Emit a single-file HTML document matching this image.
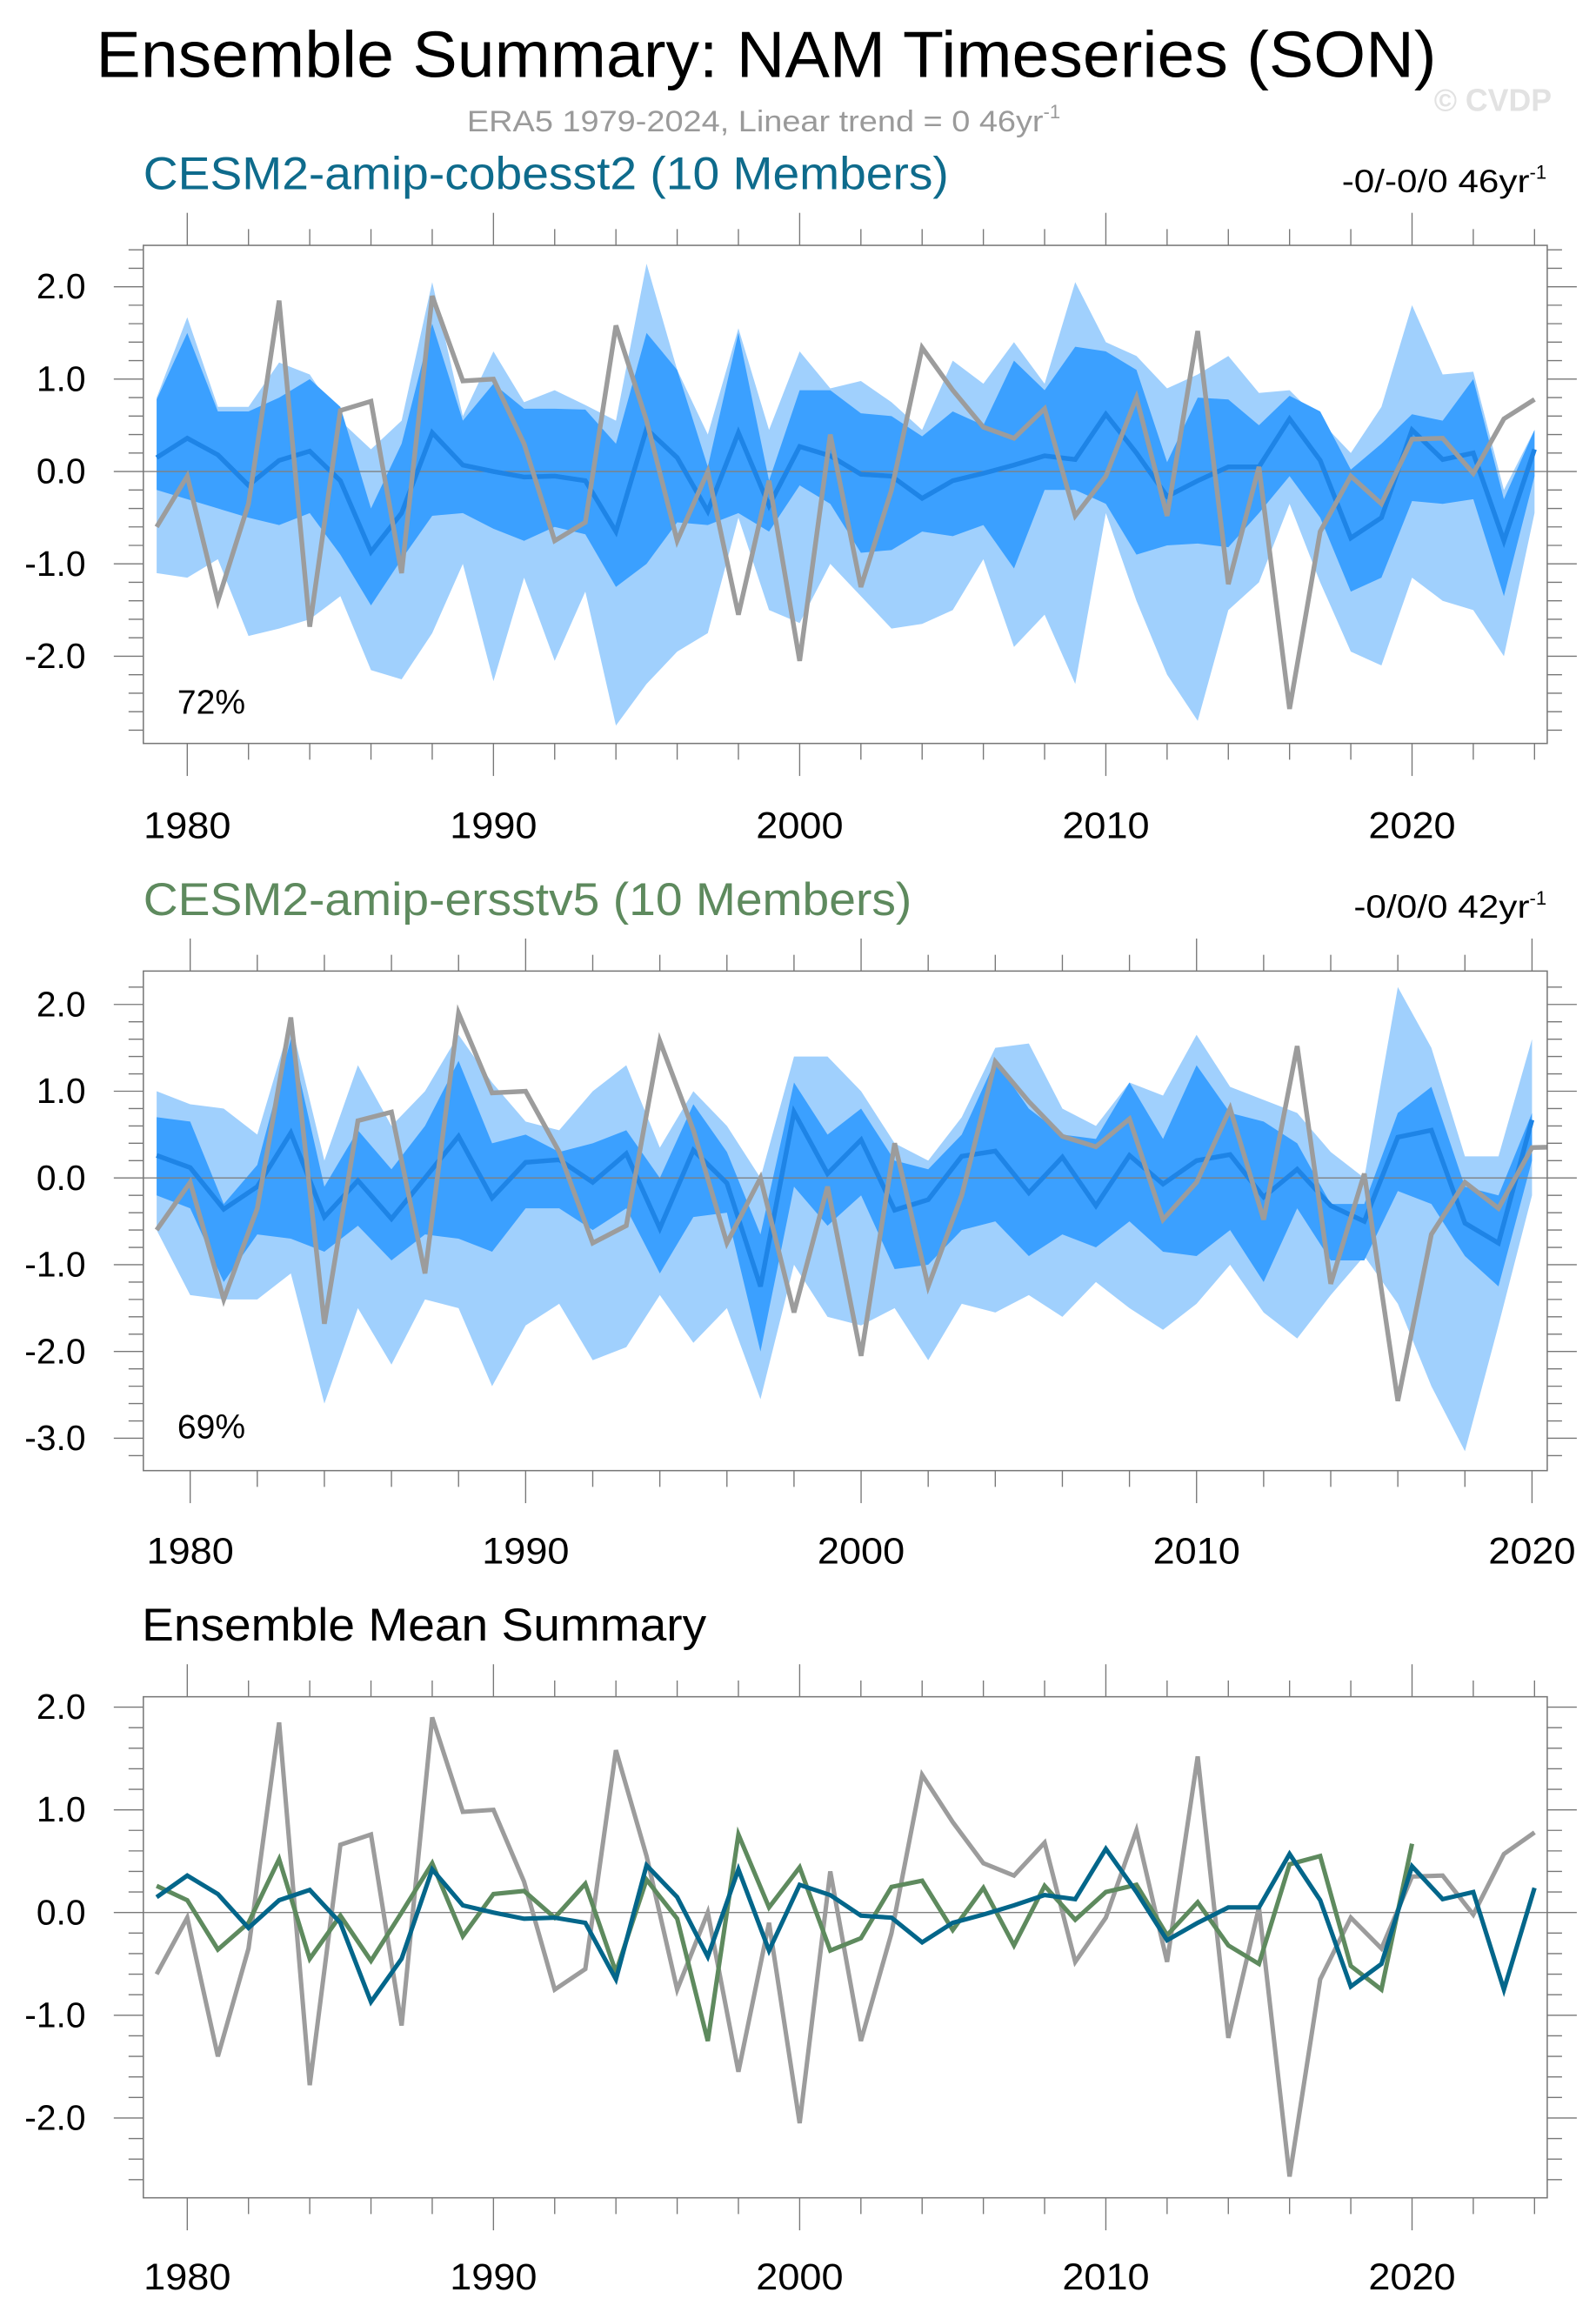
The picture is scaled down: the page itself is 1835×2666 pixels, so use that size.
<!DOCTYPE html>
<html><head><meta charset="utf-8">
<style>
html,body{margin:0;padding:0;background:#fff;}
svg{display:block;font-family:"Liberation Sans",sans-serif;}
</style></head>
<body>
<svg id="chart" width="1835" height="2666" viewBox="0 0 1080 1569" preserveAspectRatio="none" xmlns="http://www.w3.org/2000/svg">
<text x="65" y="52" font-size="44" textLength="907" lengthAdjust="spacingAndGlyphs" fill="#000">Ensemble Summary: NAM Timeseries (SON)</text>
<text x="316" y="89" font-size="20" fill="#9a9a9a"><tspan textLength="390" lengthAdjust="spacingAndGlyphs">ERA5 1979-2024, Linear trend = 0 46yr</tspan><tspan font-size="13" dy="-9">-1</tspan></text>
<text x="1050" y="75" font-size="21" font-weight="bold" text-anchor="end" fill="#e2e2e2">© CVDP</text>
<text x="97" y="128" font-size="31" textLength="545" lengthAdjust="spacingAndGlyphs" fill="#0e6b8c">CESM2-amip-cobesst2 (10 Members)</text>
<text x="908" y="130" font-size="22" fill="#000"><tspan textLength="127" lengthAdjust="spacingAndGlyphs">-0/-0/0 46yr</tspan><tspan font-size="13" dy="-9">-1</tspan></text>
<text x="97" y="619" font-size="31" textLength="520" lengthAdjust="spacingAndGlyphs" fill="#5e8a5e">CESM2-amip-ersstv5 (10 Members)</text>
<text x="916" y="621" font-size="22" fill="#000"><tspan textLength="119" lengthAdjust="spacingAndGlyphs">-0/0/0 42yr</tspan><tspan font-size="13" dy="-9">-1</tspan></text>
<text x="96" y="1110" font-size="31" textLength="382" lengthAdjust="spacingAndGlyphs" fill="#000">Ensemble Mean Summary</text>
<g id="plots"></g>
</svg>
<script>
// ---- data ----
const yearsA = [1979,1980,1981,1982,1983,1984,1985,1986,1987,1988,1989,1990,1991,1992,1993,1994,1995,1996,1997,1998,1999,2000,2001,2002,2003,2004,2005,2006,2007,2008,2009,2010,2011,2012,2013,2014,2015,2016,2017,2018,2019,2020,2021,2022,2023,2024];
const era5 = [-0.6,-0.05,-1.4,-0.35,1.85,-1.68,0.66,0.76,-1.1,1.9,0.98,1.0,0.3,-0.75,-0.55,1.58,0.55,-0.75,0.0,-1.55,-0.1,-2.05,0.4,-1.25,-0.2,1.34,0.88,0.48,0.36,0.68,-0.48,-0.05,0.8,-0.48,1.52,-1.22,0.05,-2.57,-0.65,-0.05,-0.35,0.35,0.36,-0.02,0.57,0.78];
const cobMean = [0.15,0.36,0.18,-0.15,0.12,0.22,-0.1,-0.87,-0.45,0.42,0.07,0.0,-0.06,-0.05,-0.1,-0.65,0.46,0.15,-0.43,0.42,-0.37,0.27,0.17,-0.03,-0.05,-0.29,-0.1,-0.02,0.07,0.17,0.13,0.62,0.2,-0.27,-0.1,0.05,0.05,0.57,0.12,-0.72,-0.5,0.45,0.13,0.2,-0.75,0.24];
const cobOuterHi = [0.8,1.67,0.7,0.7,1.18,1.05,0.55,0.24,0.55,2.05,0.6,1.3,0.75,0.88,0.72,0.55,2.25,1.1,0.4,1.55,0.45,1.3,0.9,0.98,0.75,0.45,1.2,0.95,1.4,0.95,2.05,1.4,1.25,0.9,1.05,1.25,0.85,0.88,0.55,0.2,0.7,1.8,1.05,1.08,-0.2,0.45];
const cobInnerHi = [0.78,1.5,0.65,0.65,0.8,1.0,0.7,-0.4,0.3,1.6,0.55,0.95,0.68,0.68,0.67,0.3,1.5,1.1,0.05,1.5,-0.1,0.88,0.88,0.63,0.6,0.38,0.65,0.5,1.2,0.88,1.35,1.3,1.1,0.1,0.8,0.78,0.5,0.82,0.65,0.02,0.3,0.62,0.55,1.0,-0.3,0.45];
const cobInnerLo = [-0.2,-0.3,-0.4,-0.5,-0.58,-0.45,-0.9,-1.45,-0.95,-0.48,-0.45,-0.62,-0.75,-0.6,-0.68,-1.25,-1.0,-0.55,-0.58,-0.45,-0.65,-0.15,-0.35,-0.88,-0.85,-0.65,-0.7,-0.58,-1.05,-0.2,-0.2,-0.35,-0.9,-0.8,-0.78,-0.82,-0.45,-0.05,-0.5,-1.3,-1.15,-0.32,-0.35,-0.3,-1.35,-0.05];
const cobOuterLo = [-1.1,-1.15,-0.95,-1.78,-1.7,-1.6,-1.35,-2.15,-2.25,-1.75,-1.0,-2.27,-1.15,-2.05,-1.3,-2.75,-2.3,-1.95,-1.75,-0.5,-1.5,-1.64,-1.0,-1.35,-1.7,-1.65,-1.5,-0.95,-1.9,-1.55,-2.3,-0.45,-1.4,-2.2,-2.7,-1.5,-1.2,-0.35,-1.2,-1.95,-2.1,-1.15,-1.4,-1.5,-2.0,-0.45];
const yearsB = [1979,1980,1981,1982,1983,1984,1985,1986,1987,1988,1989,1990,1991,1992,1993,1994,1995,1996,1997,1998,1999,2000,2001,2002,2003,2004,2005,2006,2007,2008,2009,2010,2011,2012,2013,2014,2015,2016,2017,2018,2019,2020];
const ersMean = [0.26,0.12,-0.36,-0.1,0.52,-0.45,-0.03,-0.47,0.0,0.48,-0.23,0.18,0.21,-0.05,0.28,-0.58,0.32,-0.06,-1.25,0.76,0.05,0.44,-0.37,-0.25,0.25,0.31,-0.17,0.24,-0.32,0.26,-0.07,0.2,0.27,-0.22,0.1,-0.32,-0.5,0.47,0.55,-0.52,-0.75,0.67];
const ersOuterHi = [1.0,0.85,0.8,0.5,1.8,0.2,1.3,0.6,1.0,1.65,1.1,0.65,0.55,1.0,1.3,0.35,1.0,0.6,0.0,1.4,1.4,1.0,0.4,0.2,0.7,1.5,1.55,0.8,0.6,1.1,0.95,1.65,1.05,0.9,0.75,0.3,0.0,2.2,1.5,0.25,0.25,1.6];
const ersInnerHi = [0.7,0.65,-0.3,0.15,1.6,-0.1,0.55,0.1,0.6,1.35,0.4,0.5,0.3,0.4,0.55,0.0,0.85,0.3,-0.65,1.1,0.5,0.8,0.2,0.1,0.5,1.35,0.8,0.5,0.45,1.1,0.45,1.3,0.75,0.65,0.4,-0.3,-0.3,0.75,1.05,-0.1,-0.2,0.75];
const ersInnerLo = [-0.2,-0.35,-1.2,-0.65,-0.7,-0.85,-0.55,-0.95,-0.65,-0.7,-0.85,-0.35,-0.35,-0.6,-0.35,-1.1,-0.45,-0.4,-2.0,-0.1,-0.55,-0.2,-1.05,-1.0,-0.6,-0.5,-0.9,-0.65,-0.8,-0.5,-0.85,-0.9,-0.6,-1.2,-0.35,-0.95,-0.95,-0.15,-0.3,-0.9,-1.25,0.2];
const ersOuterLo = [-0.6,-1.35,-1.4,-1.4,-1.1,-2.6,-1.5,-2.15,-1.4,-1.5,-2.4,-1.7,-1.45,-2.1,-1.95,-1.35,-1.9,-1.5,-2.55,-1.0,-1.6,-1.7,-1.5,-2.1,-1.45,-1.55,-1.35,-1.6,-1.2,-1.5,-1.75,-1.45,-1.0,-1.55,-1.85,-1.35,-0.9,-1.45,-2.4,-3.15,-1.7,-0.2];
const xTickLabelsA = ["1980","1990","2000","2010","2020"];
const yTickLabels1 = ["2.0","1.0","0.0","-1.0","-2.0"];
const yTickLabels2 = ["2.0","1.0","0.0","-1.0","-2.0","-3.0"];

const NS = "http://www.w3.org/2000/svg";
const root = document.getElementById('plots');
function mk(tag, attrs, parent){const e=document.createElementNS(NS,tag);for(const k in attrs)e.setAttribute(k,attrs[k]);(parent||root).appendChild(e);return e;}

function panel(cfg){
  const g = mk('g',{});
  
  
  const L=97,R=1047,T=cfg.top,B=cfg.bottom;
  const X = y => cfg.x0 + (y-1979)*cfg.xs;
  const Y = v => cfg.zero - v*cfg.ys;
  const cid = cfg.name+'-clip';
  const cp = mk('clipPath',{id:cid},g); mk('rect',{x:L,y:T,width:R-L,height:B-T},cp);
  const body = mk('g',{'clip-path':'url(#'+cid+')'},g);
  function band(years,hi,lo,color,nm){
    let d='';
    years.forEach((yr,i)=>{d+=(i?'L':'M')+X(yr).toFixed(2)+','+Y(hi[i]).toFixed(2);});
    for(let i=years.length-1;i>=0;i--) d+='L'+X(years[i]).toFixed(2)+','+Y(lo[i]).toFixed(2);
    const p=mk('path',{d:d+'Z',fill:color},body);
    
    
  }
  function line(years,vals,color,w,nm){
    const pts=years.map((yr,i)=>X(yr).toFixed(2)+','+Y(vals[i]).toFixed(2)).join(' ');
    const p=mk('polyline',{points:pts,fill:'none',stroke:color,'stroke-width':w,'stroke-linejoin':'miter'},body);
    
    
  }
  if(cfg.bands){
    band(cfg.years,cfg.bands[0],cfg.bands[3],'#a0d0fd',cfg.name+'-outer-spread');
    band(cfg.years,cfg.bands[1],cfg.bands[2],'#3ba0ff',cfg.name+'-inner-spread');
  }
  mk('line',{x1:L,x2:R,y1:Y(0),y2:Y(0),stroke:'#808080','stroke-width':0.8},body);
  cfg.lines.forEach(l=>line(l.years,l.vals,l.color,l.w,l.name));
  const fr=mk('rect',{x:L,y:T,width:R-L,height:B-T,fill:'none',stroke:'#777','stroke-width':0.9},g);
  
  
  for(let yr=1980;yr<=cfg.xmax;yr+=2){
    const x=X(yr); if(x>R) continue;
    const maj=yr%10===0, len=maj?22:11;
    mk('line',{x1:x,x2:x,y1:T,y2:T-len,stroke:'#777','stroke-width':0.8},g);
    mk('line',{x1:x,x2:x,y1:B,y2:B+len,stroke:'#777','stroke-width':0.8},g);
  }
  xTickLabelsA.forEach(lab=>{
    const yr=+lab; if(yr>cfg.xmax) return;
    const t=mk('text',{x:X(yr),y:cfg.xlabY,'font-size':25,'text-anchor':'middle',textLength:59,lengthAdjust:'spacingAndGlyphs',fill:'#000'},g);
    t.textContent=lab;
    
    
  });
  for(let k=-40;k<=30;k++){
    const v=k*0.2; const y=Y(v); if(y<T+2||y>B-2) continue;
    const maj=Math.abs(v-Math.round(v))<1e-6, len=maj?20:10;
    mk('line',{x1:L,x2:L-len,y1:y,y2:y,stroke:'#777','stroke-width':0.8},g);
    mk('line',{x1:R,x2:R+len,y1:y,y2:y,stroke:'#777','stroke-width':0.8},g);
  }
  cfg.yLabels.forEach(lab=>{
    const t=mk('text',{x:58,y:Y(+lab)+8,'font-size':24,'text-anchor':'end',fill:'#000'},g);
    t.textContent=lab;
    
    
  });
  if(cfg.pct){
    const t=mk('text',{x:120,y:cfg.pctY,'font-size':23,fill:'#000'},g);
    t.textContent=cfg.pct;
    
    
  }
}

panel({name:'panel-cobesst2',top:166,bottom:503,zero:319,ys:62.5,x0:106,xs:20.72,xmax:2024,xlabY:567,years:yearsA,
  bands:[cobOuterHi,cobInnerHi,cobInnerLo,cobOuterLo],yLabels:yTickLabels1,pct:'72%',pctY:483,
  lines:[{years:yearsA,vals:cobMean,color:'#1e84e6',w:3.2,name:'cobesst2-ensemble-mean'},
         {years:yearsA,vals:era5,color:'#9c9c9c',w:3.2,name:'era5-observed'}]});
panel({name:'panel-ersstv5',top:657,bottom:995,zero:797,ys:58.7,x0:106,xs:22.7,xmax:2020,xlabY:1058,years:yearsB,
  bands:[ersOuterHi,ersInnerHi,ersInnerLo,ersOuterLo],yLabels:yTickLabels2,pct:'69%',pctY:973,
  lines:[{years:yearsB,vals:ersMean,color:'#1e84e6',w:3.2,name:'ersstv5-ensemble-mean'},
         {years:yearsA,vals:era5,color:'#9c9c9c',w:3.2,name:'era5-observed'}]});
panel({name:'panel-ensemble-means',top:1148,bottom:1487,zero:1294,ys:69.5,x0:106,xs:20.72,xmax:2024,xlabY:1549,
  yLabels:yTickLabels1,
  lines:[{years:yearsA,vals:era5,color:'#9c9c9c',w:3,name:'era5-observed'},
         {years:yearsB,vals:ersMean,color:'#5e8a5e',w:3,name:'ersstv5-mean-line'},
         {years:yearsA,vals:cobMean,color:'#03668a',w:3,name:'cobesst2-mean-line'}]});
</script>
</body></html>
